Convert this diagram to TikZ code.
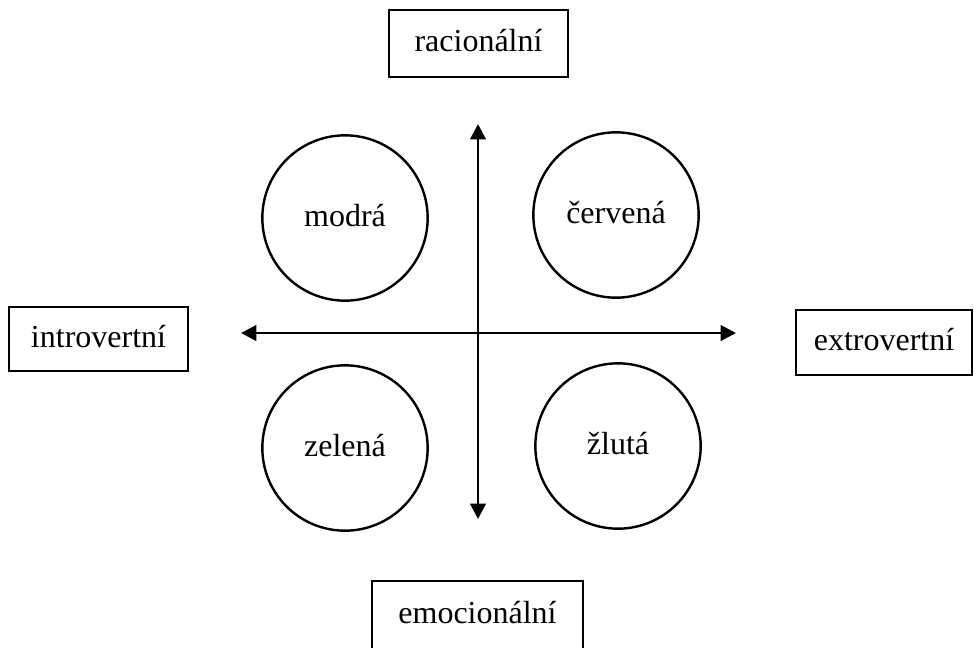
\documentclass[tikz,border=0pt]{standalone}
\usepackage{fontspec}
\setmainfont{Liberation Serif}
\usetikzlibrary{arrows.meta}
\begin{document}
\begin{tikzpicture}[x=0.75pt,y=-0.75pt,
  lbl/.style={draw=black,line width=1.8pt,rectangle,inner sep=0pt,
    text height=17pt,text depth=5pt,
    font=\fontsize{24}{28}\selectfont},
  colcircle/.style={draw=black,line width=1.8pt,circle,inner sep=0pt,
    minimum size=124pt,text height=17pt,text depth=5pt,
    font=\fontsize{24}{28}\selectfont},
  axis/.style={line width=2.2pt,{Triangle[length=11.5pt,width=11.5pt]}-{Triangle[length=11.5pt,width=11.5pt]}}]
\useasboundingbox (0,0) rectangle (974,647);
\node[lbl,minimum width=134pt,minimum height=50pt] (rac) at (478.5,43.5) {racionální};
\node[lbl,minimum width=134pt,minimum height=48pt] (intro) at (98.5,339) {introvertní};
\node[lbl,minimum width=132pt,minimum height=49pt] (extro) at (884,342.5) {extrovertní};
\node[lbl,minimum width=158pt,minimum height=51pt] (emo) at (477.5,615) {emocionální};
\node[colcircle] (modra) at (345,218) {modrá};
\node[colcircle] (cervena) at (616,215) {červená};
\node[colcircle] (zelena) at (345,448) {zelená};
\node[colcircle] (zluta) at (618,446) {žlutá};
\coordinate (vtop) at (478,124);
\coordinate (vbot) at (478,519);
\coordinate (hleft) at (241,333);
\coordinate (hright) at (736,333);
\draw[axis] (vbot) -- (vtop);
\draw[axis] (hleft) -- (hright);
\end{tikzpicture}
\end{document}
